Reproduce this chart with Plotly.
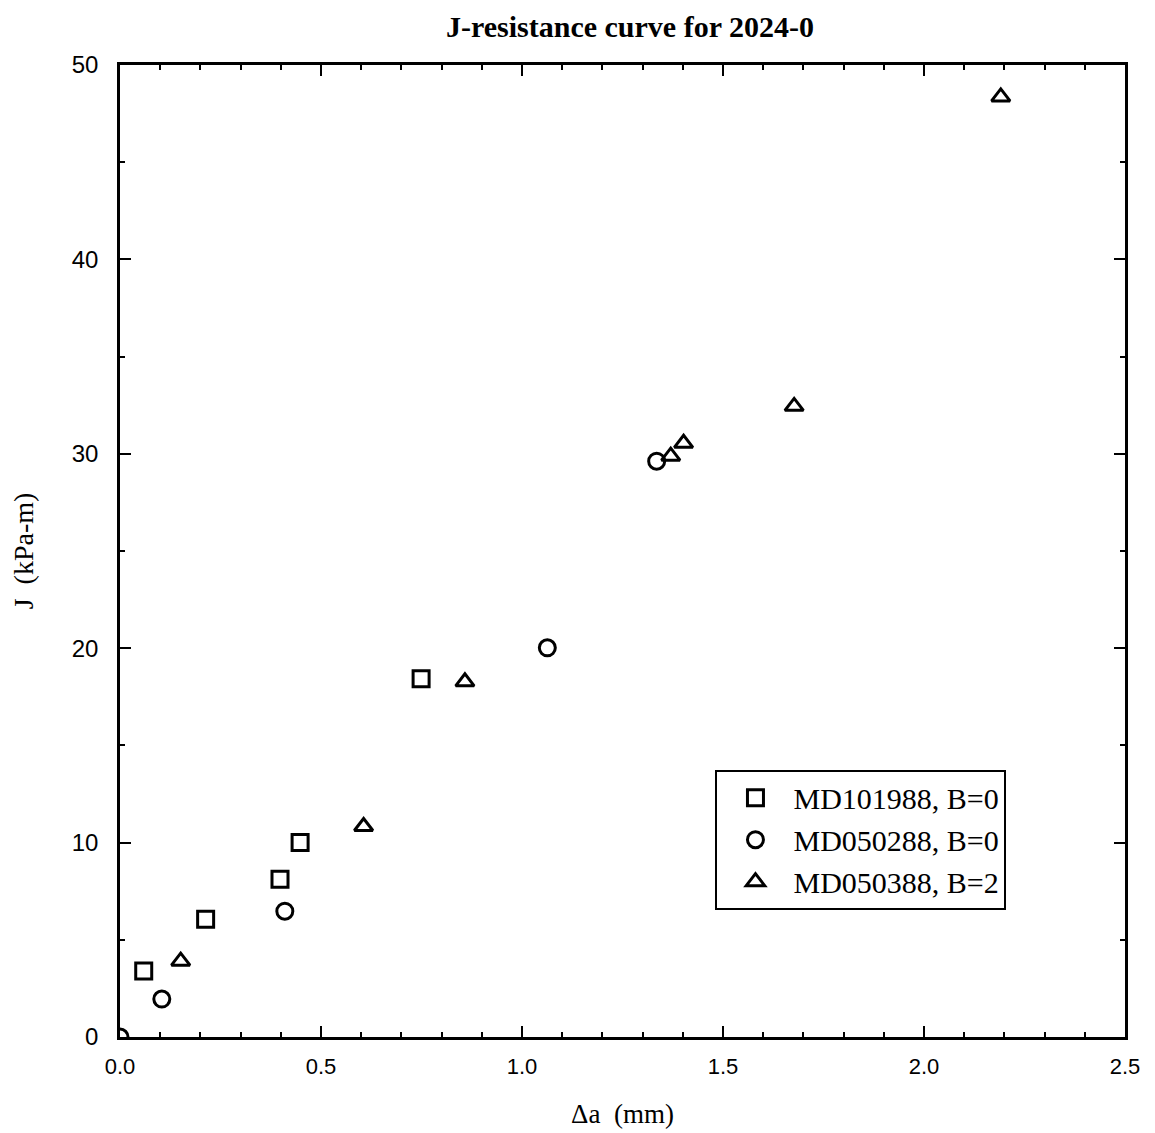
import plotly.graph_objects as go

# Data
sq_x = [0.059, 0.213, 0.398, 0.448, 0.749]
sq_y = [3.39, 6.06, 8.11, 10.0, 18.43]

ci_x = [0.0, 0.104, 0.410, 1.063, 1.335]
ci_y = [0.0, 1.95, 6.47, 20.02, 29.62]

tr_x = [0.151, 0.606, 0.858, 1.370, 1.402, 1.677, 2.191]
tr_y = [3.90, 10.83, 18.27, 29.88, 30.54, 32.44, 48.36]

names = ["MD101988, B=0", "MD050288, B=0", "MD050388, B=2"]

SERIF = "Liberation Serif, Times New Roman, serif"
SANS = "Liberation Sans, Arial, sans-serif"

fig = go.Figure()
mk_line = dict(color="black", width=3)
fig.add_trace(go.Scatter(x=sq_x, y=sq_y, mode="markers", name=names[0],
                         marker=dict(symbol="square-open", size=16, color="black", line=mk_line)))
fig.add_trace(go.Scatter(x=ci_x, y=ci_y, mode="markers", name=names[1],
                         marker=dict(symbol="circle-open", size=16, color="black", line=mk_line)))
fig.add_trace(go.Scatter(x=tr_x, y=tr_y, mode="markers", name=names[2],
                         marker=dict(symbol="triangle-up-open", size=16, color="black", line=mk_line)))

axis_common = dict(showgrid=False, zeroline=False, showline=True, linecolor="black", linewidth=2.5,
                   mirror="ticks", ticks="inside", ticklen=11, tickwidth=2, tickcolor="black")

fig.update_xaxes(range=[0, 2.5], dtick=0.5, tickformat=".1f",
                 tickfont=dict(family=SANS, size=22, color="black"),
                 ticklabelstandoff=8,
                 minor=dict(dtick=0.1, ticks="inside", ticklen=5, tickwidth=1.5, tickcolor="black"),
                 title=dict(text="Δa\u00a0\u00a0(mm)", font=dict(family=SERIF, size=27, color="black"),
                            standoff=26),
                 **axis_common)
fig.update_yaxes(range=[0, 50], dtick=10,
                 tickfont=dict(family=SANS, size=24, color="black"),
                 ticklabelstandoff=14,
                 minor=dict(dtick=5, ticks="inside", ticklen=5, tickwidth=1.5, tickcolor="black"),
                 title=dict(text="J\u00a0\u00a0(kPa-m)", font=dict(family=SERIF, size=28, color="black"),
                            standoff=32),
                 **axis_common)

fig.update_layout(
    width=1155, height=1133,
    margin=dict(l=106, r=38, t=57, b=104),
    plot_bgcolor="white", paper_bgcolor="white",
    title=dict(text="<b>J-resistance curve for 2024-0</b>", x=0.5385, xanchor="center",
               y=1 - 18 / 1133, yanchor="middle",
               font=dict(family=SERIF, size=30, color="black")),
    legend=dict(x=0.5925, y=0.275, xanchor="left", yanchor="top",
                bordercolor="black", borderwidth=2, bgcolor="white",
                font=dict(family=SERIF, size=30, color="black"),
                tracegroupgap=0, itemwidth=66),
    showlegend=True,
)

fig.write_html("out.html")
